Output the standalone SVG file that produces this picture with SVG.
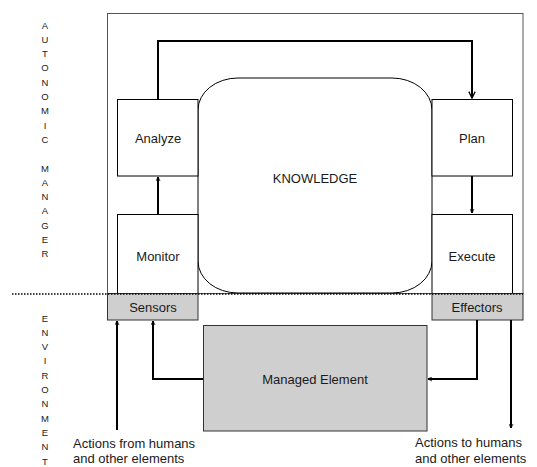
<svg xmlns="http://www.w3.org/2000/svg" width="537" height="467" viewBox="0 0 537 467">
<style>
text{font-family:"Liberation Sans",Arial,sans-serif;fill:#1a1a1a}
.lbl{font-size:13px;text-anchor:middle}
.vt{font-size:9.5px;text-anchor:middle}
.box{fill:#fff;stroke:#000;stroke-width:1}
.gray{fill:#cfcfcf;stroke:#333;stroke-width:1}
.conn{fill:none;stroke:#000;stroke-width:2}
</style>
<defs>
<marker id="ah" viewBox="0 0 10 10" refX="9" refY="5" markerWidth="5" markerHeight="5" orient="auto" markerUnits="userSpaceOnUse">
<path d="M1,1 L9,5 L1,9" fill="none" stroke="#000" stroke-width="1.6"/>
</marker>
<marker id="ah2" viewBox="0 0 10 10" refX="9" refY="5" markerWidth="8" markerHeight="8" orient="auto" markerUnits="userSpaceOnUse">
<path d="M1,1 L9,5 L1,9" fill="none" stroke="#000" stroke-width="1.6"/>
</marker>
</defs>
<g id="autonomic-manager"><rect x="107.5" y="13.5" width="415.5" height="280" fill="#fff" stroke="#555" stroke-width="1"/></g>
<g id="knowledge"><rect x="198" y="78" width="234" height="215" rx="40" ry="32" class="box"/><text class="lbl" x="315" y="183">KNOWLEDGE</text></g>
<g id="analyze"><rect x="117.5" y="99.5" width="80.5" height="76.5" class="box"/><text class="lbl" x="158" y="143">Analyze</text></g>
<g id="monitor"><rect x="117.5" y="214.5" width="80.5" height="79" class="box"/><text class="lbl" x="158" y="261">Monitor</text></g>
<g id="plan"><rect x="432" y="99.5" width="80.5" height="76.5" class="box"/><text class="lbl" x="472" y="143">Plan</text></g>
<g id="execute"><rect x="432" y="214.5" width="80.5" height="79" class="box"/><text class="lbl" x="472" y="261">Execute</text></g>
<g id="sensors"><rect x="107.5" y="293.5" width="90.5" height="26.5" class="gray"/><text class="lbl" x="153" y="312">Sensors</text></g>
<g id="effectors"><rect x="432" y="293.5" width="91" height="26.5" class="gray"/><text class="lbl" x="477" y="312">Effectors</text></g>
<g id="managed-element"><rect x="203.5" y="325.5" width="223.5" height="105.5" class="gray"/><text class="lbl" x="315" y="384">Managed Element</text></g>
<line x1="12" y1="294" x2="523" y2="294" stroke="#000" stroke-width="1.5" stroke-dasharray="1.5,1.5"/>
<g id="connectors">
<path class="conn" d="M158,99 V41 H472 V98" marker-end="url(#ah2)"/>
<path class="conn" d="M158,214 V177" marker-end="url(#ah)"/>
<path class="conn" d="M472,176 V213" marker-end="url(#ah)"/>
<path class="conn" d="M117,430 V321" marker-end="url(#ah)"/>
<path class="conn" d="M203,379 H153 V321" marker-end="url(#ah)"/>
<path class="conn" d="M477,320 V379 H428" marker-end="url(#ah)"/>
<path class="conn" d="M511,320 V428" marker-end="url(#ah)"/>
</g>
<g id="labels">
<text x="73" y="448" style="font-size:13px">Actions from humans</text>
<text x="73" y="463" style="font-size:13px">and other elements</text>
<text x="415" y="447" style="font-size:13px">Actions to humans</text>
<text x="415" y="463" style="font-size:13px">and other elements</text>
</g>
<g id="side-text">
<text class="vt" x="45" y="28.5">A</text>
<text class="vt" x="45" y="42.8">U</text>
<text class="vt" x="45" y="57.1">T</text>
<text class="vt" x="45" y="71.4">O</text>
<text class="vt" x="45" y="85.7">N</text>
<text class="vt" x="45" y="100">O</text>
<text class="vt" x="45" y="114.3">M</text>
<text class="vt" x="45" y="128.6">I</text>
<text class="vt" x="45" y="142.9">C</text>
<text class="vt" x="45" y="171.5">M</text>
<text class="vt" x="45" y="185.8">A</text>
<text class="vt" x="45" y="200.1">N</text>
<text class="vt" x="45" y="214.4">A</text>
<text class="vt" x="45" y="228.7">G</text>
<text class="vt" x="45" y="243">E</text>
<text class="vt" x="45" y="257.3">R</text>
<text class="vt" x="45" y="321.5">E</text>
<text class="vt" x="45" y="335.8">N</text>
<text class="vt" x="45" y="350.1">V</text>
<text class="vt" x="45" y="364.4">I</text>
<text class="vt" x="45" y="378.7">R</text>
<text class="vt" x="45" y="393">O</text>
<text class="vt" x="45" y="407.3">N</text>
<text class="vt" x="45" y="421.6">M</text>
<text class="vt" x="45" y="435.9">E</text>
<text class="vt" x="45" y="450.2">N</text>
<text class="vt" x="45" y="464.5">T</text>
</g>
</svg>
